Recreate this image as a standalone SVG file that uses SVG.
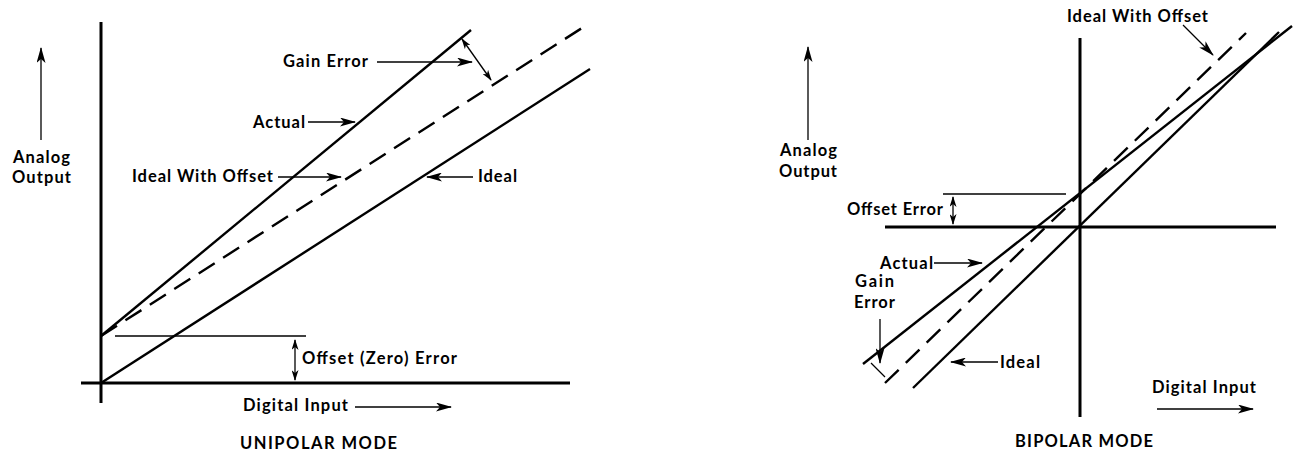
<svg xmlns="http://www.w3.org/2000/svg" width="1293" height="454" viewBox="0 0 1293 454">
<style>
.t{font-family:Lato,"Open Sans","Liberation Sans",sans-serif;font-weight:700;font-size:16.5px;fill:#000}
.ax{stroke:#000;stroke-width:3;fill:none}
.ln{stroke:#000;stroke-width:2.4;fill:none}
.ds{stroke:#000;stroke-width:2.4;fill:none;stroke-dasharray:19 10}
.th{stroke:#000;stroke-width:1.3;fill:none}
.ar{stroke:#000;stroke-width:1.3;fill:none;marker-end:url(#ah)}
.ar2{stroke:#000;stroke-width:1.3;fill:none;marker-end:url(#sh);marker-start:url(#sh)}
</style>
<defs>
<marker id="ah" viewBox="0 0 16 9" markerWidth="16" markerHeight="9" refX="15" refY="4.5" orient="auto" markerUnits="userSpaceOnUse"><path d="M0,0 L16,4.5 L0,9 L4,4.5 Z" fill="#000"/></marker>
<marker id="sh" viewBox="0 0 11 7" markerWidth="11" markerHeight="7" refX="10" refY="3.5" orient="auto-start-reverse" markerUnits="userSpaceOnUse"><path d="M0,0 L11,3.5 L0,7 L3,3.5 Z" fill="#000"/></marker>
</defs>

<g id="unipolar">
  <g id="u-axes">
    <line class="ax" x1="101" y1="22" x2="101" y2="403"/>
    <line class="ax" x1="81" y1="383" x2="570" y2="383"/>
  </g>
  <g id="u-ideal"><line class="ln" x1="101" y1="383" x2="590" y2="69"/></g>
  <g id="u-actual"><line class="ln" x1="101" y1="336" x2="471" y2="30"/></g>
  <g id="u-ideal-offset"><line class="ds" x1="101" y1="336" x2="582" y2="28"/></g>
  <g id="u-offset-ref"><line class="th" x1="115" y1="336" x2="306" y2="336"/></g>
  <g id="u-label-analog"><text class="t" x="13" y="163" textLength="57">Analog</text><text class="t" x="12" y="183" textLength="59">Output</text></g>
  <g id="u-label-gain"><text class="t" x="283" y="67" textLength="85">Gain Error</text></g>
  <g id="u-label-actual"><text class="t" x="253" y="128" textLength="52">Actual</text></g>
  <g id="u-label-ideal-offset"><text class="t" x="132" y="182" textLength="141">Ideal With Offset</text></g>
  <g id="u-label-ideal"><text class="t" x="478" y="182" textLength="39">Ideal</text></g>
  <g id="u-label-offset"><text class="t" x="302" y="364" textLength="155">Offset (Zero) Error</text></g>
  <g id="u-label-digital"><text class="t" x="243" y="411" textLength="105">Digital Input</text></g>
  <g id="u-title"><text class="t" x="240" y="449" textLength="157">UNIPOLAR MODE</text></g>
</g>

<g id="bipolar">
  <g id="b-axes">
    <line class="ax" x1="885" y1="227" x2="1276" y2="227"/>
    <line class="ax" x1="1080" y1="38" x2="1080" y2="417"/>
  </g>
  <g id="b-ideal"><line class="ln" x1="913" y1="388" x2="1279" y2="32"/></g>
  <g id="b-actual"><line class="ln" x1="863" y1="364" x2="1292" y2="26"/></g>
  <g id="b-ideal-offset"><line class="ds" x1="885" y1="383" x2="1246" y2="33"/></g>
  <g id="b-offset-ref"><line class="th" x1="943" y1="194" x2="1066" y2="194"/></g>
  <g id="b-gain-tick"><line class="th" x1="871" y1="363" x2="885" y2="377"/></g>
  <g id="b-label-analog"><text class="t" x="780" y="156" textLength="57">Analog</text><text class="t" x="779" y="177" textLength="58">Output</text></g>
  <g id="b-label-ideal-offset"><text class="t" x="1067" y="22" textLength="141">Ideal With Offset</text></g>
  <g id="b-label-offset"><text class="t" x="847" y="215" textLength="96">Offset Error</text></g>
  <g id="b-label-actual"><text class="t" x="880" y="269" textLength="53">Actual</text></g>
  <g id="b-label-gain"><text class="t" x="855" y="287" textLength="39">Gain</text><text class="t" x="854" y="308" textLength="41">Error</text></g>
  <g id="b-label-ideal"><text class="t" x="1000" y="368" textLength="40">Ideal</text></g>
  <g id="b-label-digital"><text class="t" x="1152" y="393" textLength="104">Digital Input</text></g>
  <g id="b-title"><text class="t" x="1015" y="447" textLength="138">BIPOLAR MODE</text></g>
</g>

<g id="connectors">
  <line class="ar" x1="41" y1="140" x2="41" y2="48"/>
  <line class="ar" x1="377" y1="62" x2="472" y2="62"/>
  <line class="ar2" x1="462" y1="39" x2="491" y2="80"/>
  <line class="ar" x1="308" y1="122" x2="355" y2="122"/>
  <line class="ar" x1="278" y1="177" x2="341" y2="177"/>
  <line class="ar" x1="473" y1="177" x2="427" y2="177"/>
  <line class="ar2" x1="295" y1="340" x2="295" y2="380"/>
  <line class="ar" x1="355" y1="407" x2="451" y2="407"/>

  <line class="ar" x1="808" y1="140" x2="808" y2="47"/>
  <line class="ar" x1="1183" y1="25" x2="1213" y2="55"/>
  <line class="ar2" x1="953" y1="197" x2="953" y2="224"/>
  <line class="ar" x1="934" y1="263" x2="982" y2="263"/>
  <line class="ar" x1="880" y1="319" x2="880" y2="363"/>
  <line class="ar" x1="998" y1="362" x2="951" y2="362"/>
  <line class="ar" x1="1157" y1="409" x2="1253" y2="409"/>
</g>
</svg>
